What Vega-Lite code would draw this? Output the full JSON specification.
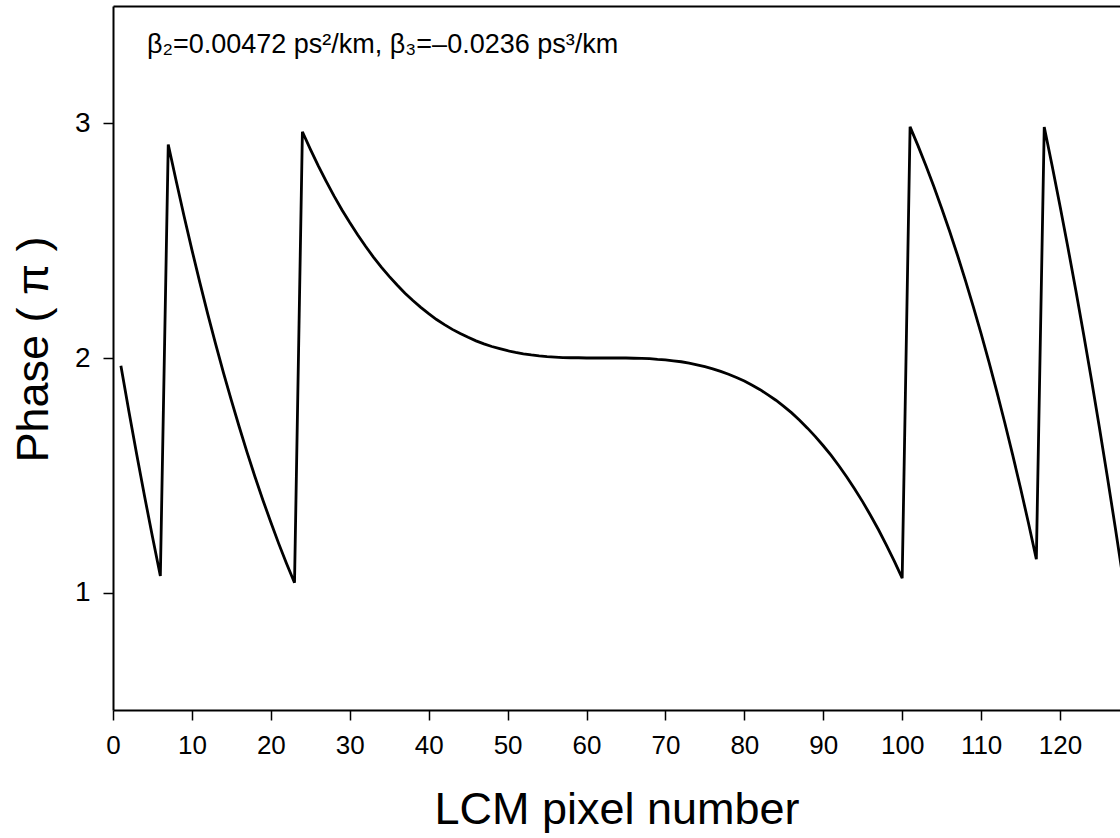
{
  "$schema": "https://vega.github.io/schema/vega-lite/v6.json",
  "width": 1007,
  "height": 704,
  "autosize": {"type": "none"},
  "padding": {"left": 113, "top": 6, "right": 0, "bottom": 128},
  "background": "white",
  "config": {
    "view": {"stroke": null},
    "font": "Liberation Sans",
    "axis": {
      "grid": false,
      "domainColor": "black",
      "domainWidth": 2,
      "tickColor": "black",
      "tickWidth": 1.5,
      "tickSize": 10,
      "labelColor": "black",
      "labelFont": "Liberation Sans",
      "titleColor": "black",
      "titleFont": "Liberation Sans",
      "titleFontWeight": "normal"
    }
  },
  "data": {
    "values": [
      {"pixel": 1, "phase": 1.967}, {"pixel": 2, "phase": 1.775}, {"pixel": 3, "phase": 1.590}, {"pixel": 4, "phase": 1.411},
      {"pixel": 5, "phase": 1.238}, {"pixel": 6, "phase": 1.071}, {"pixel": 7, "phase": 2.910}, {"pixel": 8, "phase": 2.755},
      {"pixel": 9, "phase": 2.605}, {"pixel": 10, "phase": 2.461}, {"pixel": 11, "phase": 2.322}, {"pixel": 12, "phase": 2.188},
      {"pixel": 13, "phase": 2.060}, {"pixel": 14, "phase": 1.937}, {"pixel": 15, "phase": 1.819}, {"pixel": 16, "phase": 1.706},
      {"pixel": 17, "phase": 1.597}, {"pixel": 18, "phase": 1.493}, {"pixel": 19, "phase": 1.394}, {"pixel": 20, "phase": 1.300},
      {"pixel": 21, "phase": 1.209}, {"pixel": 22, "phase": 1.123}, {"pixel": 23, "phase": 1.042}, {"pixel": 24, "phase": 2.964},
      {"pixel": 25, "phase": 2.890}, {"pixel": 26, "phase": 2.820}, {"pixel": 27, "phase": 2.754}, {"pixel": 28, "phase": 2.691},
      {"pixel": 29, "phase": 2.632}, {"pixel": 30, "phase": 2.577}, {"pixel": 31, "phase": 2.525}, {"pixel": 32, "phase": 2.476},
      {"pixel": 33, "phase": 2.430}, {"pixel": 34, "phase": 2.387}, {"pixel": 35, "phase": 2.348}, {"pixel": 36, "phase": 2.311},
      {"pixel": 37, "phase": 2.276}, {"pixel": 38, "phase": 2.245}, {"pixel": 39, "phase": 2.216}, {"pixel": 40, "phase": 2.189},
      {"pixel": 41, "phase": 2.164}, {"pixel": 42, "phase": 2.142}, {"pixel": 43, "phase": 2.122}, {"pixel": 44, "phase": 2.104},
      {"pixel": 45, "phase": 2.088}, {"pixel": 46, "phase": 2.073}, {"pixel": 47, "phase": 2.060}, {"pixel": 48, "phase": 2.049},
      {"pixel": 49, "phase": 2.040}, {"pixel": 50, "phase": 2.031}, {"pixel": 51, "phase": 2.024}, {"pixel": 52, "phase": 2.018},
      {"pixel": 53, "phase": 2.013}, {"pixel": 54, "phase": 2.009}, {"pixel": 55, "phase": 2.006}, {"pixel": 56, "phase": 2.004},
      {"pixel": 57, "phase": 2.002}, {"pixel": 58, "phase": 2.001}, {"pixel": 59, "phase": 2.001}, {"pixel": 60, "phase": 2.000},
      {"pixel": 61, "phase": 2.000}, {"pixel": 62, "phase": 2.000}, {"pixel": 63, "phase": 2.000}, {"pixel": 64, "phase": 2.000},
      {"pixel": 65, "phase": 2.000}, {"pixel": 66, "phase": 1.999}, {"pixel": 67, "phase": 1.998}, {"pixel": 68, "phase": 1.997},
      {"pixel": 69, "phase": 1.994}, {"pixel": 70, "phase": 1.992}, {"pixel": 71, "phase": 1.988}, {"pixel": 72, "phase": 1.984},
      {"pixel": 73, "phase": 1.978}, {"pixel": 74, "phase": 1.971}, {"pixel": 75, "phase": 1.963}, {"pixel": 76, "phase": 1.954},
      {"pixel": 77, "phase": 1.943}, {"pixel": 78, "phase": 1.931}, {"pixel": 79, "phase": 1.917}, {"pixel": 80, "phase": 1.902},
      {"pixel": 81, "phase": 1.884}, {"pixel": 82, "phase": 1.865}, {"pixel": 83, "phase": 1.843}, {"pixel": 84, "phase": 1.820},
      {"pixel": 85, "phase": 1.794}, {"pixel": 86, "phase": 1.766}, {"pixel": 87, "phase": 1.735}, {"pixel": 88, "phase": 1.701},
      {"pixel": 89, "phase": 1.665}, {"pixel": 90, "phase": 1.626}, {"pixel": 91, "phase": 1.585}, {"pixel": 92, "phase": 1.540},
      {"pixel": 93, "phase": 1.492}, {"pixel": 94, "phase": 1.441}, {"pixel": 95, "phase": 1.387}, {"pixel": 96, "phase": 1.329},
      {"pixel": 97, "phase": 1.268}, {"pixel": 98, "phase": 1.203}, {"pixel": 99, "phase": 1.134}, {"pixel": 100, "phase": 1.062},
      {"pixel": 101, "phase": 2.985}, {"pixel": 102, "phase": 2.905}, {"pixel": 103, "phase": 2.820}, {"pixel": 104, "phase": 2.732},
      {"pixel": 105, "phase": 2.638}, {"pixel": 106, "phase": 2.541}, {"pixel": 107, "phase": 2.439}, {"pixel": 108, "phase": 2.332},
      {"pixel": 109, "phase": 2.220}, {"pixel": 110, "phase": 2.104}, {"pixel": 111, "phase": 1.982}, {"pixel": 112, "phase": 1.856},
      {"pixel": 113, "phase": 1.724}, {"pixel": 114, "phase": 1.587}, {"pixel": 115, "phase": 1.445}, {"pixel": 116, "phase": 1.297},
      {"pixel": 117, "phase": 1.143}, {"pixel": 118, "phase": 2.984}, {"pixel": 119, "phase": 2.819}, {"pixel": 120, "phase": 2.648},
      {"pixel": 121, "phase": 2.471}, {"pixel": 122, "phase": 2.289}, {"pixel": 123, "phase": 2.099}, {"pixel": 124, "phase": 1.904},
      {"pixel": 125, "phase": 1.702}, {"pixel": 126, "phase": 1.493}, {"pixel": 127, "phase": 1.278}, {"pixel": 128, "phase": 1.056}
    ]
  },
  "layer": [
    {
      "mark": {"type": "line", "color": "black", "strokeWidth": 2.8, "clip": true},
      "encoding": {
        "x": {
          "field": "pixel",
          "type": "quantitative",
          "scale": {"domain": [0, 127.6], "nice": false, "zero": false},
          "axis": {
            "orient": "bottom",
            "values": [0, 10, 20, 30, 40, 50, 60, 70, 80, 90, 100, 110, 120],
            "format": "d",
            "labelFontSize": 26,
            "labelPadding": 12,
            "labelFlush": false,
            "title": "LCM pixel number",
            "titleFontSize": 45,
            "titleBaseline": "alphabetic",
            "titleY": 113
          }
        },
        "y": {
          "field": "phase",
          "type": "quantitative",
          "scale": {"domain": [0.5, 3.5], "nice": false, "zero": false},
          "axis": {
            "orient": "left",
            "values": [1, 2, 3],
            "format": "d",
            "labelFontSize": 28,
            "labelPadding": 13,
            "title": "Phase ( π )",
            "titleFontSize": 45,
            "titleBaseline": "alphabetic",
            "titleX": -66,
            "titleY": 343
          }
        }
      }
    },
    {
      "data": {
        "values": [
          {"note": "β₂=0.00472 ps²/km, β₃=–0.0236 ps³/km", "nx": 4.3, "ny": 3.3}
        ]
      },
      "mark": {"type": "text", "align": "left", "baseline": "alphabetic", "fontSize": 27, "font": "Liberation Sans", "color": "black"},
      "encoding": {
        "x": {
          "field": "nx",
          "type": "quantitative",
          "axis": {"orient": "top", "labels": false, "ticks": false, "title": null, "domain": true}
        },
        "y": {"field": "ny", "type": "quantitative"},
        "text": {"field": "note"}
      }
    }
  ],
  "resolve": {"axis": {"x": "independent"}}
}
